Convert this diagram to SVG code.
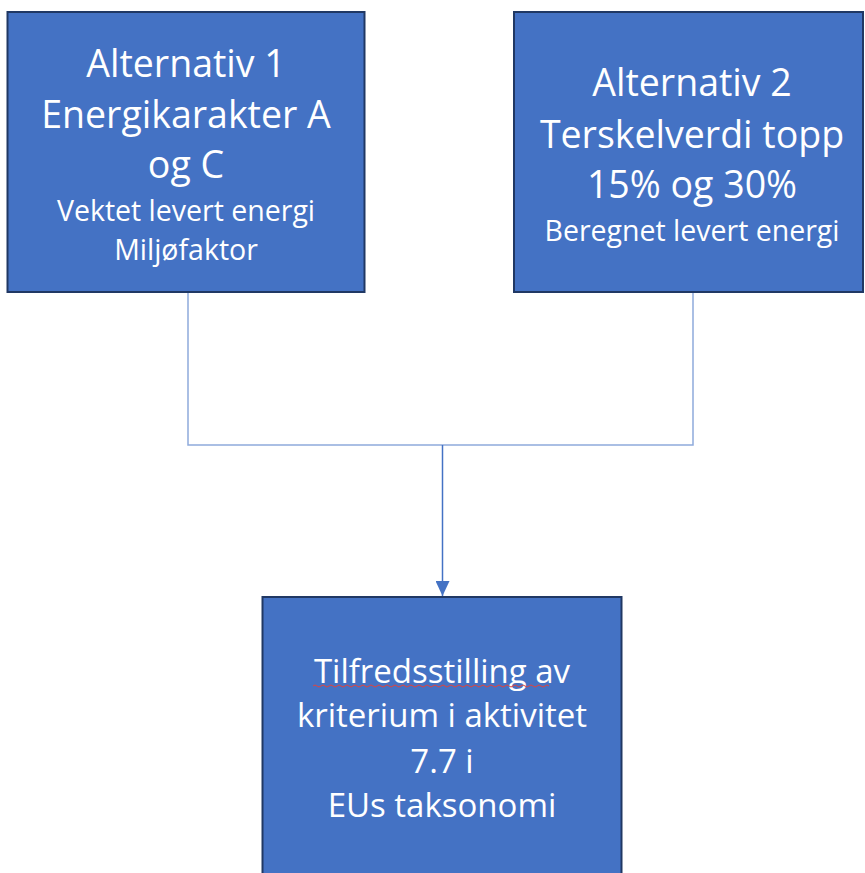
<svg xmlns="http://www.w3.org/2000/svg" width="865" height="873" viewBox="0 0 865 873">
<style>
.box{fill:#4472C4;stroke:#203864;stroke-width:2}
.t{fill:#ffffff;font-family:"Open Sans","Noto Sans",sans-serif;text-anchor:middle}
.big{font-size:37.5px}
.small{font-size:28.5px}
.mid{font-size:33px}
.elbow{fill:none;stroke:#8FAADC;stroke-width:1.5}
.arrow{fill:none;stroke:#4472C4;stroke-width:1.5}
</style>
<defs>
<marker id="ah" markerWidth="16" markerHeight="14" refX="15" refY="7" orient="auto" markerUnits="userSpaceOnUse">
<path d="M0,0 L15,7 L0,14 Z" fill="#4472C4"/>
</marker>
</defs>
<rect width="865" height="873" fill="#ffffff"/>
<g id="connectors">
<path class="elbow" d="M188,292 V445 H693 V292"/>
<path class="arrow" d="M442.5,445 V596" marker-end="url(#ah)"/>
</g>
<g id="alt1">
<rect class="box" x="7.5" y="12" width="357" height="280"/>
<text class="t big" x="186" y="77">Alternativ 1</text>
<text class="t big" x="186" y="128">Energikarakter A</text>
<text class="t big" x="186" y="178">og C</text>
<text class="t small" x="186" y="221">Vektet levert energi</text>
<text class="t small" x="186" y="260">Miljøfaktor</text>
</g>
<g id="alt2">
<rect class="box" x="514" y="12" width="349" height="280"/>
<text class="t big" x="692" y="96">Alternativ 2</text>
<text class="t big" x="692" y="148">Terskelverdi topp</text>
<text class="t big" x="692" y="198">15% og 30%</text>
<text class="t small" x="692" y="241">Beregnet levert energi</text>
</g>
<g id="result">
<rect class="box" x="262.5" y="597" width="359" height="290"/>
<text class="t mid" x="442" y="683">Tilfredsstilling av</text>
<path d="M313,686 q2,-2 4,0 t4,0 t4,0 t4,0 t4,0 t4,0 t4,0 t4,0 t4,0 t4,0 t4,0 t4,0 t4,0 t4,0 t4,0 t4,0 t4,0 t4,0 t4,0 t4,0 t4,0 t4,0 t4,0 t4,0 t4,0 t4,0 t4,0 t4,0 t4,0 t4,0 t4,0 t4,0 t4,0 t4,0 t4,0 t4,0 t4,0 t4,0 t4,0 t4,0 t4,0 t4,0 t4,0 t4,0 t4,0 t4,0 t4,0 t4,0 t4,0 t4,0 t4,0 t4,0 t4,0 t4,0 t4,0 t4,0 t4,0 t4,0 t4,0" fill="none" stroke="#E0443E" stroke-width="1"/>
<text class="t mid" x="442" y="727">kriterium i aktivitet</text>
<text class="t mid" x="442" y="773">7.7 i</text>
<text class="t mid" x="442" y="817">EUs taksonomi</text>
</g>
</svg>
